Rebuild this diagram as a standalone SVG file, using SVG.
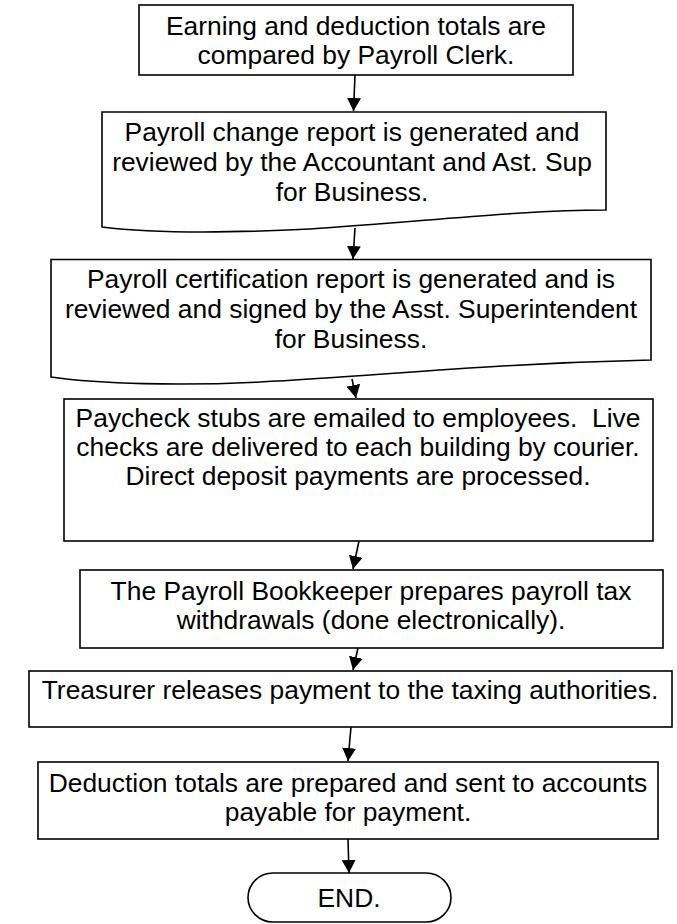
<svg xmlns="http://www.w3.org/2000/svg" width="677" height="924" viewBox="0 0 677 924">
<style>
.box{fill:#fff;stroke:#000;stroke-width:1.6}
.t{font-family:"Liberation Sans",Arial,sans-serif;font-size:26.4px;fill:#000;text-anchor:middle}
.c{stroke:#000;stroke-width:1.6;fill:none;marker-end:url(#ah)}
</style>
<defs>
<marker id="ah" markerUnits="userSpaceOnUse" markerWidth="14" markerHeight="14" refX="13" refY="7" orient="auto" viewBox="0 0 14 14">
<path d="M0,0 L13,7 L0,14 Z" fill="#000"/>
</marker>
</defs>
<rect width="677" height="924" fill="#fff"/>
<g id="n1">
<rect class="box" x="139" y="5" width="434" height="70"/>
<text class="t"><tspan x="356" y="35">Earning and deduction totals are</tspan><tspan x="356" y="64">compared by Payroll Clerk.</tspan></text>
</g>
<g id="n2">
<path class="box" d="M102,112 H606 V210 C520,210 420,222 310,229 C230,233 150,233 102,227 Z"/>
<text class="t"><tspan x="352" y="141">Payroll change report is generated and</tspan><tspan x="352" y="171">reviewed by the Accountant and Ast. Sup</tspan><tspan x="352" y="201">for Business.</tspan></text>
</g>
<g id="n3">
<path class="box" d="M51,259.5 H651 V360 C480,364 380,376 260,382 C180,386 100,384 51,377 Z"/>
<text class="t"><tspan x="351" y="288">Payroll certification report is generated and is</tspan><tspan x="351" y="318">reviewed and signed by the Asst. Superintendent</tspan><tspan x="351" y="348">for Business.</tspan></text>
</g>
<g id="n4">
<rect class="box" x="64" y="399" width="589" height="142"/>
<text class="t" xml:space="preserve"><tspan x="358" y="427">Paycheck stubs are emailed to employees.  Live</tspan><tspan x="358" y="456">checks are delivered to each building by courier.</tspan><tspan x="358" y="485">Direct deposit payments are processed.</tspan></text>
</g>
<g id="n5">
<rect class="box" x="80" y="570" width="583" height="78"/>
<text class="t"><tspan x="371" y="600">The Payroll Bookkeeper prepares payroll tax</tspan><tspan x="371" y="629">withdrawals (done electronically).</tspan></text>
</g>
<g id="n6">
<rect class="box" x="29" y="671" width="643" height="56"/>
<text class="t" x="350" y="699">Treasurer releases payment to the taxing authorities.</text>
</g>
<g id="n7">
<rect class="box" x="38" y="762" width="620" height="77"/>
<text class="t"><tspan x="348" y="792">Deduction totals are prepared and sent to accounts</tspan><tspan x="348" y="821">payable for payment.</tspan></text>
</g>
<g id="n8">
<rect class="box" x="248" y="873" width="203" height="49" rx="25" ry="25"/>
<text class="t" x="349" y="907">END.</text>
</g>
<g id="connectors">
<line class="c" x1="355" y1="75" x2="353.5" y2="111"/>
<line class="c" x1="355" y1="228" x2="353" y2="259"/>
<line class="c" x1="352" y1="379" x2="356" y2="398"/>
<line class="c" x1="359" y1="541" x2="353" y2="569"/>
<line class="c" x1="358" y1="648" x2="353" y2="670"/>
<line class="c" x1="351" y1="727" x2="348" y2="761"/>
<line class="c" x1="348" y1="839" x2="349" y2="873"/>
</g>
</svg>
